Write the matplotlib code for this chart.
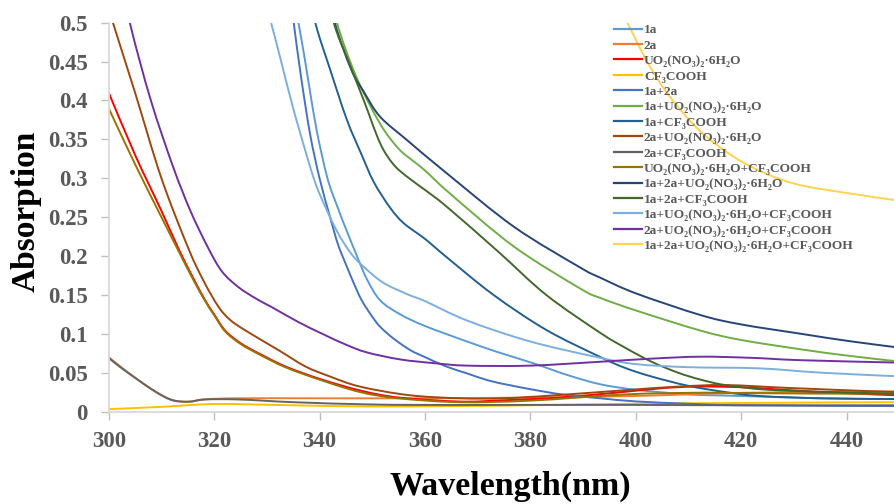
import matplotlib
matplotlib.use("Agg")
import numpy as np
import matplotlib.pyplot as plt
from matplotlib.path import Path
from matplotlib.patches import PathPatch
from matplotlib.lines import Line2D

# ---- data (wavelength nm, absorption) ----
names = ['1a', '2a', 'UO₂(NO₃)₂·6H₂O', 'CF₃COOH', '1a+2a',
         '1a+UO₂(NO₃)₂·6H₂O', '1a+CF₃COOH', '2a+UO₂(NO₃)₂·6H₂O',
         '2a+CF₃COOH', 'UO₂(NO₃)₂·6H₂O+CF₃COOH', '1a+2a+UO₂(NO₃)₂·6H₂O',
         '1a+2a+CF₃COOH', '1a+UO₂(NO₃)₂·6H₂O+CF₃COOH',
         '2a+UO₂(NO₃)₂·6H₂O+CF₃COOH', '1a+2a+UO₂(NO₃)₂·6H₂O+CF₃COOH']
colors = ['#5B9BD5', '#ED7D31', '#FF0000', '#FFC000', '#4472C4',
          '#70AD47', '#255E91', '#9E480E', '#636363', '#997300',
          '#264478', '#43682B', '#7CAFDD', '#7030A0', '#FFD34F']

x_1a = [334, 336, 338, 339.5, 341.5, 343.3, 345, 347.1, 349, 351.5, 355.3, 360, 368, 374, 380.6, 387, 393.3, 400, 410, 420, 435, 449]
y_1a = [0.56, 0.5, 0.42, 0.36, 0.3, 0.265, 0.235, 0.2, 0.17, 0.143, 0.125, 0.11, 0.09, 0.076, 0.062, 0.047, 0.035, 0.028, 0.022, 0.02, 0.017, 0.016]

x_2a = [300, 302, 305.6, 309, 312, 315.1, 318.3, 324.6, 340, 360, 380, 400, 420, 449]
y_2a = [0.07, 0.059, 0.0405, 0.025, 0.0148, 0.0126, 0.0157, 0.017, 0.017, 0.017, 0.018, 0.02, 0.024, 0.026]

x_uo2 = [300, 305, 310, 313.2, 316, 318.3, 320, 322.1, 325, 328.4, 333.5, 340, 347.7, 355, 366.7, 375, 385.8, 398.1, 405, 410.7, 417, 423.4, 435, 449]
y_uo2 = [0.41, 0.33, 0.258, 0.21, 0.172, 0.143, 0.125, 0.104, 0.088, 0.075, 0.058, 0.042, 0.027, 0.018, 0.0128, 0.0145, 0.018, 0.0255, 0.03, 0.032, 0.0318, 0.03, 0.025, 0.021]

x_tfa = [299.3, 310, 320.2, 335, 348.7, 365, 380, 400, 420, 449]
y_tfa = [0.0028, 0.006, 0.0096, 0.008, 0.0065, 0.007, 0.008, 0.01, 0.011, 0.012]

x_1a2a = [334, 335.1, 336.5, 338.2, 340, 342, 343.5, 345.2, 346.5, 348, 350, 351.5, 354, 357.2, 360, 364, 368, 372, 376, 380.6, 386, 393.3, 400, 410, 420, 449]
y_1a2a = [0.56, 0.5, 0.43, 0.357, 0.3, 0.25, 0.215, 0.186, 0.165, 0.143, 0.122, 0.109, 0.094, 0.079, 0.07, 0.058, 0.049, 0.04, 0.034, 0.028, 0.022, 0.017, 0.013, 0.01, 0.008, 0.007]

x_1a_uo2 = [341.5, 343.3, 347, 351.5, 355, 357.8, 360, 364.8, 376.9, 389.5, 393.3, 400, 412.3, 420, 431.3, 440, 449]
y_1a_uo2 = [0.56, 0.5, 0.43, 0.37, 0.338, 0.322, 0.31, 0.28, 0.212, 0.158, 0.146, 0.13, 0.104, 0.092, 0.08, 0.072, 0.065]

x_1a_tfa = [337.5, 339.2, 342, 345.2, 348, 350.3, 353.4, 356, 360, 364.2, 373, 383, 393.3, 398, 403, 410, 417, 423.4, 435, 449]
y_1a_tfa = [0.56, 0.5, 0.44, 0.375, 0.33, 0.295, 0.262, 0.242, 0.222, 0.198, 0.15, 0.105, 0.07, 0.056, 0.045, 0.033, 0.025, 0.02, 0.017, 0.016]

x_2a_uo2 = [300, 300.8, 305, 310, 315.1, 318, 320.8, 323, 326, 332.2, 337.3, 342, 347.7, 357, 366.7, 375, 385, 398.4, 408, 417, 430, 449]
y_2a_uo2 = [0.52, 0.5, 0.41, 0.3, 0.21, 0.168, 0.135, 0.118, 0.104, 0.079, 0.058, 0.045, 0.032, 0.021, 0.017, 0.017, 0.021, 0.0276, 0.032, 0.034, 0.03, 0.025]

x_2a_tfa = [300, 302, 305.6, 309, 312, 315.1, 318.3, 324.6, 335, 348.7, 360, 380, 400, 420, 449]
y_2a_tfa = [0.069, 0.058, 0.0405, 0.025, 0.0148, 0.0126, 0.0155, 0.0155, 0.012, 0.0092, 0.0085, 0.0085, 0.0085, 0.008, 0.008]

x_uo2_tfa = [300, 305, 310, 313.2, 316, 318.3, 320, 322.1, 325, 328.4, 333.5, 340, 347.7, 355, 366.7, 380, 398, 410, 417, 435, 449]
y_uo2_tfa = [0.39, 0.318, 0.25, 0.207, 0.17, 0.142, 0.124, 0.103, 0.087, 0.074, 0.057, 0.041, 0.025, 0.017, 0.012, 0.014, 0.022, 0.024, 0.024, 0.023, 0.023]

x_1a2a_uo2 = [341.3, 342.9, 346, 348.5, 351.5, 356.6, 364.2, 376.9, 389.5, 393.3, 400, 412.3, 420, 431.3, 440, 449]
y_1a2a_uo2 = [0.56, 0.5, 0.44, 0.41, 0.379, 0.349, 0.306, 0.2375, 0.185, 0.172, 0.152, 0.124, 0.112, 0.1, 0.091, 0.083]

x_1a2a_tfa = [341, 342.7, 345.5, 348.4, 351.5, 354, 356.6, 360, 364.2, 374, 383, 393.3, 398, 403, 408, 412.3, 417, 425, 437, 449]
y_1a2a_tfa = [0.56, 0.5, 0.45, 0.4, 0.345, 0.318, 0.302, 0.285, 0.263, 0.205, 0.15, 0.101, 0.082, 0.064, 0.05, 0.041, 0.034, 0.028, 0.025, 0.023]

x_1a_uo2_tfa = [329.5, 330.8, 332.5, 335, 338.2, 340, 343.3, 346, 348.4, 352, 356.6, 360, 368, 380, 393.3, 400, 410, 423.4, 435, 449]
y_1a_uo2_tfa = [0.53, 0.5, 0.456, 0.39, 0.315, 0.28, 0.232, 0.203, 0.186, 0.166, 0.151, 0.142, 0.117, 0.09, 0.069, 0.061, 0.057, 0.0555, 0.05, 0.0455]

x_2a_uo2_tfa = [300, 304, 308, 312.2, 315.5, 318.9, 321.5, 324.6, 328, 331, 336, 340.5, 345, 349, 355.3, 362, 368, 380, 393.3, 403, 412.3, 422, 431.3, 449]
y_2a_uo2_tfa = [0.62, 0.5, 0.4, 0.315, 0.258, 0.21, 0.18, 0.16, 0.145, 0.134, 0.115, 0.1, 0.086, 0.076, 0.067, 0.062, 0.059, 0.059, 0.064, 0.068, 0.0705, 0.069, 0.066, 0.063]

x_all = [396, 398.4, 402, 406, 412, 418.6, 425, 431.3, 440, 449]
y_all = [0.53, 0.5, 0.452, 0.409, 0.362, 0.3275, 0.305, 0.291, 0.281, 0.272]

yticks = [0, 0.05, 0.1, 0.15, 0.2, 0.25, 0.3, 0.35, 0.4, 0.45, 0.5]
ytick_labels = ['0', '0.05', '0.1', '0.15', '0.2', '0.25', '0.3', '0.35', '0.4', '0.45', '0.5']
xticks = [300, 320, 340, 360, 380, 400, 420, 440]

series = [(x_1a, y_1a), (x_2a, y_2a), (x_uo2, y_uo2), (x_tfa, y_tfa),
          (x_1a2a, y_1a2a), (x_1a_uo2, y_1a_uo2), (x_1a_tfa, y_1a_tfa),
          (x_2a_uo2, y_2a_uo2), (x_2a_tfa, y_2a_tfa), (x_uo2_tfa, y_uo2_tfa),
          (x_1a2a_uo2, y_1a2a_uo2), (x_1a2a_tfa, y_1a2a_tfa),
          (x_1a_uo2_tfa, y_1a_uo2_tfa), (x_2a_uo2_tfa, y_2a_uo2_tfa),
          (x_all, y_all)]

serif = ['Liberation Serif', 'DejaVu Serif']
grey = '#595959'


def smooth_path(xs, ys):
    # Excel-style "smoothed line": cubic Bezier through the data points
    p = np.column_stack([xs, ys]).astype(float)
    n = len(p)
    verts = [p[0]]
    codes = [Path.MOVETO]
    for i in range(n - 1):
        p0 = p[max(i - 1, 0)]
        p1 = p[i]
        p2 = p[i + 1]
        p3 = p[min(i + 2, n - 1)]
        verts += [p1 + (p2 - p0) / 6, p2 - (p3 - p1) / 6, p2]
        codes += [Path.CURVE4] * 3
    return Path(verts, codes)


fig = plt.figure(figsize=(8.94, 5.04), dpi=100)
ax = fig.add_axes([0.1216, 0.1835, 0.8784, 0.7715])

handles = []
for (xs, ys), name, c in zip(series, names, colors):
    ax.add_patch(PathPatch(smooth_path(xs, ys), fill=False, edgecolor=c,
                           lw=1.4, capstyle='round'))
    handles.append(Line2D([], [], color=c, lw=1.6, label=name))

ax.set_xlim(300, 449)
ax.set_ylim(0, 0.5)
ax.set_xticks(xticks)
ax.set_yticks(yticks)
ax.set_yticklabels(ytick_labels)

for s in ['top', 'right']:
    ax.spines[s].set_visible(False)
for s in ['left', 'bottom']:
    ax.spines[s].set_color('#D9D9D9')
    ax.spines[s].set_linewidth(1.3)

ax.tick_params(axis='both', colors='#BFBFBF', length=6, width=1.0,
               labelcolor=grey, labelsize=16.5)
ax.tick_params(axis='x', pad=8)
ax.tick_params(axis='y', pad=9)
for lab in ax.get_xticklabels() + ax.get_yticklabels():
    lab.set_family(serif)
    lab.set_fontweight('bold')

fig.text(510 / 894, 1 - 486 / 504, 'Wavelength(nm)', family=serif,
         fontweight='bold', fontsize=24.5, color='black',
         ha='center', va='center')
fig.text(26 / 894, 1 - 211 / 504, 'Absorption', family=serif,
         fontweight='bold', fontsize=24, color='black',
         ha='center', va='center', rotation=90)

leg = ax.legend(handles=handles, loc='upper left',
                bbox_to_anchor=(614 / 894, 1 - 24 / 504),
                bbox_transform=fig.transFigure, frameon=False,
                prop={'family': serif, 'weight': 'bold', 'size': 9.6},
                handlelength=2.1, handletextpad=0.15, labelspacing=0.23,
                borderpad=0.0, borderaxespad=0.0)
for t in leg.get_texts():
    t.set_color(grey)

fig.savefig('out.png', dpi=100)
